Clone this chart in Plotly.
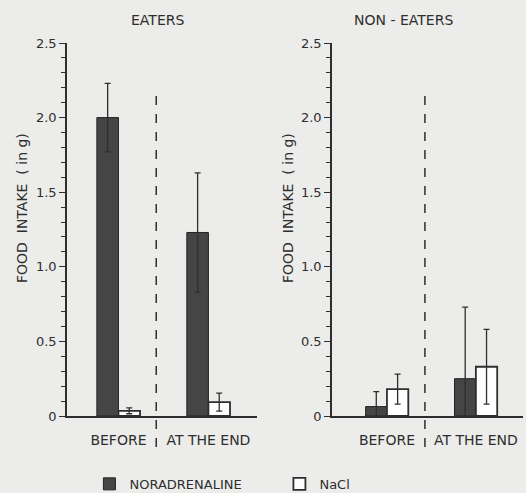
import plotly.graph_objects as go
from plotly.subplots import make_subplots

categories = ["BEFORE", "AT THE END"]
panels = ["EATERS", "NON - EATERS"]

nor_eaters = [2.0, 1.23]
nor_eaters_err = [0.23, 0.40]
nacl_eaters = [0.035, 0.093]
nacl_eaters_err = [0.02, 0.06]

nor_non = [0.063, 0.25]
nor_non_err = [0.10, 0.48]
nacl_non = [0.18, 0.33]
nacl_non_err = [0.10, 0.25]

y_tickvals = [0, 0.5, 1.0, 1.5, 2.0, 2.5]
y_ticktext = ["0", "0.5", "1.0", "1.5", "2.0", "2.5"]
y_minor = [0.1, 0.2, 0.3, 0.4, 0.6, 0.7, 0.8, 0.9, 1.1, 1.2, 1.3, 1.4,
           1.6, 1.7, 1.8, 1.9, 2.1, 2.2, 2.3, 2.4]

BG = "#ececea"
DARK = "#454545"
INK = "#2e2e2e"
FONT = "DejaVu Sans"

fig = make_subplots(rows=1, cols=2)

def add_panel(col, nor, nor_err, nacl, nacl_err, show):
    fig.add_trace(go.Bar(
        x=categories, y=nor, name="NORADRENALINE", showlegend=show,
        marker=dict(color=DARK, line=dict(color="#222", width=1)),
        error_y=dict(type="data", array=nor_err, visible=True,
                     color=INK, thickness=1.3, width=3),
        legendgroup="n"), row=1, col=col)
    fig.add_trace(go.Bar(
        x=categories, y=nacl, name="NaCl", showlegend=show,
        marker=dict(color="rgba(255,255,255,0.95)", line=dict(color=INK, width=1.8)),
        error_y=dict(type="data", array=nacl_err, visible=True,
                     color=INK, thickness=1.3, width=3),
        legendgroup="s"), row=1, col=col)

add_panel(1, nor_eaters, nor_eaters_err, nacl_eaters, nacl_eaters_err, True)
add_panel(2, nor_non, nor_non_err, nacl_non, nacl_non_err, False)

ydom = [(493 - 416) / 493, (493 - 43) / 493]
yaxis_common = dict(
    range=[0, 2.5], tickvals=y_tickvals, ticktext=y_ticktext,
    ticks="outside", ticklen=6, tickwidth=1.2, tickcolor=INK,
    minor=dict(tickvals=y_minor, ticks="outside", ticklen=4, tickcolor=INK, tickwidth=1),
    showline=True, linecolor=INK, linewidth=1.5, showgrid=False, zeroline=False,
    tickfont=dict(family=FONT, size=13, color=INK), domain=ydom, automargin=False,
)
xaxis_common = dict(
    type="category", showline=True, linecolor=INK, linewidth=1.5,
    ticks="", showgrid=False, ticklabelstandoff=10, automargin=False,
    tickfont=dict(family=FONT, size=14, color=INK),
)
fig.update_layout(
    xaxis=dict(xaxis_common, domain=[67 / 526, 257 / 526], range=[-0.572, 1.54]),
    xaxis2=dict(xaxis_common, domain=[332 / 526, 523 / 526], range=[-0.618, 1.53]),
    yaxis=dict(yaxis_common),
    yaxis2=dict(yaxis_common),
    barmode="group", bargap=0.52, bargroupgap=0.0,
    width=526, height=493,
    margin=dict(l=0, r=0, t=0, b=0, autoexpand=False),
    paper_bgcolor=BG, plot_bgcolor=BG,
    legend=dict(orientation="h", x=0.17, y=-0.012, xanchor="left", yanchor="bottom",
                font=dict(family=FONT, size=13, color=INK), bgcolor="rgba(0,0,0,0)",
                itemwidth=30, entrywidth=145, tracegroupgap=0),
    showlegend=True,
)

# dividers between periods
for xr, xpos in (("x", 0.42), ("x2", 0.427)):
    fig.add_shape(type="line", xref=xr, yref="paper", x0=xpos, x1=xpos,
                  y0=(493 - 447) / 493, y1=(493 - 87) / 493,
                  line=dict(color=INK, width=1.5, dash="dash"))

# panel titles and axis titles
for title, xc in ((panels[0], 157), (panels[1], 403)):
    fig.add_annotation(text=title, x=xc / 526, y=(493 - 20) / 493, xref="paper", yref="paper",
                       xanchor="center", yanchor="middle", showarrow=False,
                       font=dict(family=FONT, size=14, color=INK))
for xc in (22, 288):
    fig.add_annotation(text="FOOD  INTAKE  ( in g)", x=xc / 526, y=(493 - 208) / 493,
                       xref="paper", yref="paper", textangle=-90, showarrow=False,
                       xanchor="center", yanchor="middle",
                       font=dict(family=FONT, size=14, color=INK))

fig.write_html("out.html", config={"displayModeBar": False},
               post_script="document.body.style.margin='0px';document.body.style.overflow='hidden';")
